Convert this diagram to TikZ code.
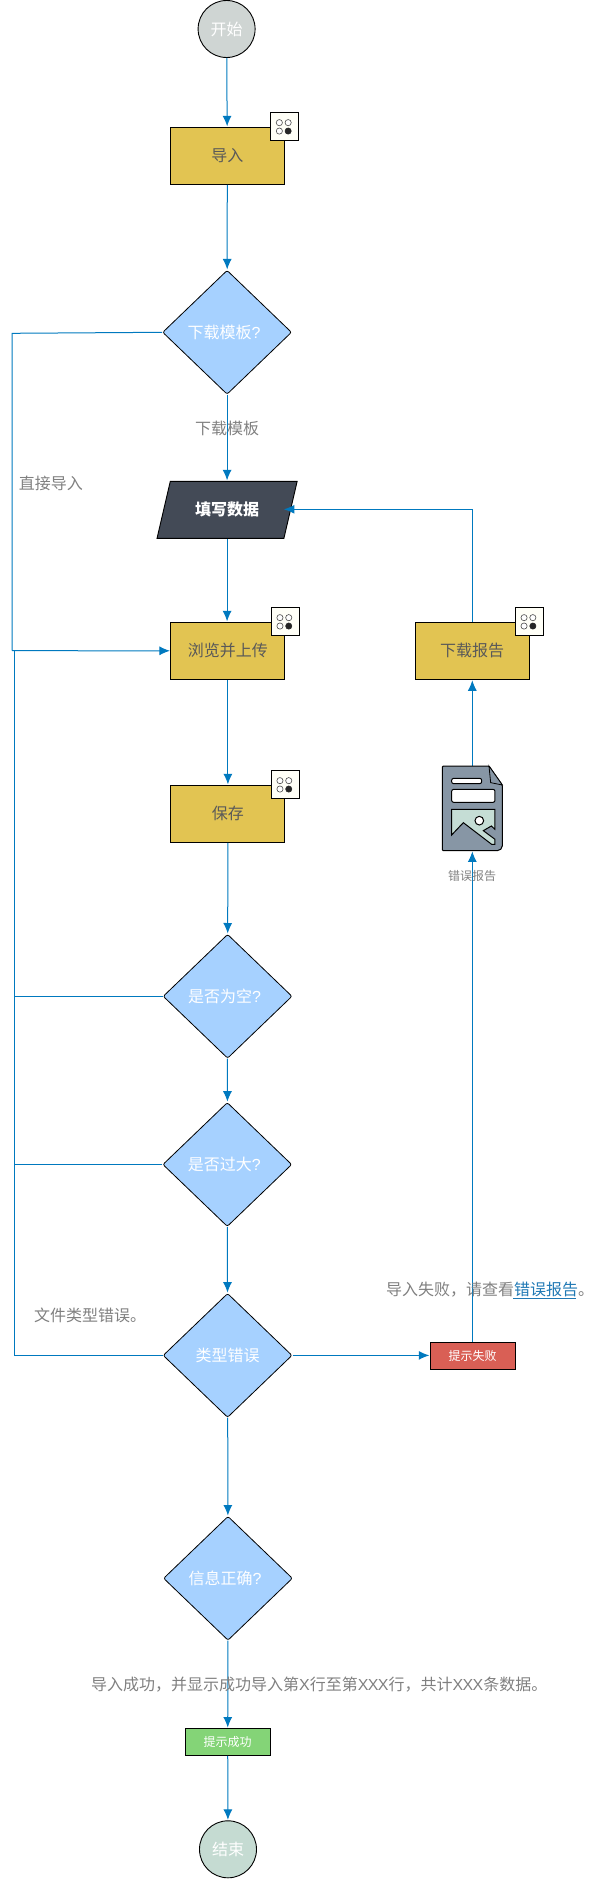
\documentclass[tikz,border=0pt]{standalone}
\usepackage{fontspec}
\setmainfont{Noto Sans CJK SC}
\newfontfamily\latinfont[LetterSpace=-4]{Liberation Sans}
\usetikzlibrary{arrows.meta,shapes.geometric}
\definecolor{flow}{HTML}{0079BF}
\definecolor{procfill}{HTML}{E2C452}
\definecolor{askfill}{HTML}{A6D1FF}
\definecolor{datafill}{HTML}{434A56}
\definecolor{failfill}{HTML}{D95F55}
\definecolor{passfill}{HTML}{84D477}
\definecolor{startfill}{HTML}{CFD5D3}
\definecolor{endfill}{HTML}{C5DBD2}
\definecolor{docfill}{HTML}{8796A5}
\definecolor{picfill}{HTML}{C5DDD5}
\definecolor{notegray}{HTML}{808080}
\definecolor{linkblue}{HTML}{1F78B4}
\tikzset{
  line/.style={draw=flow,line width=1pt},
  arrow/.style={line,-{Latex[length=10.5pt,width=9pt]},shorten >=.5pt},
  terminal/.style={circle,draw,line width=.9pt,fill=#1,minimum size=57pt,inner sep=0pt,text=white,font=\fontsize{16pt}{16pt}\selectfont},
  proc/.style={rectangle,draw,line width=.9pt,fill=procfill,minimum width=114pt,minimum height=57pt,inner sep=0pt,text=black!65,font=\fontsize{16pt}{16pt}\selectfont},
  ask/.style={diamond,draw,line width=.8pt,rounded corners=2pt,fill=askfill,minimum width=129pt,minimum height=124pt,inner sep=0pt,text=white,font=\fontsize{16pt}{16pt}\selectfont},
  tip/.style={rectangle,draw,line width=.9pt,fill=#1,minimum width=85pt,minimum height=27pt,inner sep=0pt,text=white,font=\fontsize{12pt}{12pt}\selectfont},
  note/.style={text=notegray,inner sep=0pt,font=\fontsize{16pt}{16pt}\selectfont},
  badge/.style={rectangle,draw,line width=.9pt,fill=yellow!3,minimum size=28pt,inner sep=0pt},
  ring/.style={draw=black!70,line width=.6pt,fill=white},
  pip/.style={draw=black!85,line width=.6pt,fill=black!85}
}
\begin{document}
\begin{tikzpicture}[x=1pt,y=-1pt]
\useasboundingbox (0,0) rectangle (599,1879);

\node[terminal=startfill] (start) at (226.6,29) {开始};
\node[proc] (import) at (227.3,155.8) {导入};
\node[ask] (template) at (227.1,332.3) {下载模板{\latinfont ?}\kern6pt};
\node[trapezium,trapezium left angle=64,trapezium right angle=116,trapezium stretches=true,draw,line width=.9pt,fill=datafill,minimum width=141pt,minimum height=57pt,inner sep=0pt,text=white,font=\fontsize{16pt}{16pt}\selectfont\bfseries] (fill) at (227.1,509.8) {填写数据};
\node[proc] (upload) at (227.9,650.8) {浏览并上传};
\node[proc] (save) at (227.9,813.8) {保存};
\node[proc] (report) at (472,650.8) {下载报告};
\node[ask] (empty) at (227.6,996.3) {是否为空{\latinfont ?}\kern6pt};
\node[ask] (large) at (227.3,1164.5) {是否过大{\latinfont ?}\kern6pt};
\node[ask] (type) at (227.6,1355.4) {类型错误};
\node[ask] (right) at (228,1578.3) {信息正确{\latinfont ?}\kern6pt};
\node[tip=failfill] (fail) at (472.7,1355.8) {提示失败};
\node[tip=passfill] (pass) at (227.7,1742) {提示成功};
\node[terminal=endfill] (end) at (228,1849.3) {结束};
\node[minimum width=60pt,minimum height=84.7pt,inner sep=0pt] (doc) at (472.3,808.3) {};

\coordinate (railtop) at (12.2,333.3);
\coordinate (railmid) at (12.2,650.7);
\coordinate (rail) at (14.5,650.7);
\coordinate (fillside) at (283.4,509.3);

\draw[arrow] (start) -- (import);
\draw[arrow] (import) -- (template);
\draw[arrow] (template) -- (fill.north -| template);
\draw[arrow] (fill.south -| template) -- (upload.north -| template);
\draw[arrow] (upload) -- (save);
\draw[arrow] (save) -- (empty);
\draw[arrow] (empty) -- (large);
\draw[arrow] (large) -- (type);
\draw[arrow] (type) -- (right);
\draw[arrow] (right) -- (pass);
\draw[arrow] (pass) -- (end);
\draw[line] (template.west) -- (railtop) -- (railmid);
\draw[arrow] (railmid) -- (upload.west);
\draw[line] (type.west) -| (rail);
\draw[line] (empty.west) -- (empty.west -| rail);
\draw[line] (large.west) -- (large.west -| rail);
\draw[arrow] (type) -- (fail.west |- type);
\draw[arrow] (fail.north -| doc) -- (doc.south);
\draw[arrow] (doc.north) -- (report.south -| doc);
\draw[arrow] (report.north) |- (fillside);

\foreach \proc in {import,upload,save,report} {
  \node[badge] (dots\proc) at (\proc.north east) {};
  \foreach \dx/\dy in {-5.4/-4.2,3.4/-4.2,-5.4/4.2} {
    \draw[ring] ([shift={(\dx,\dy)}]\proc.north east) circle[radius=3.1];
  }
  \draw[pip] ([shift={(3.4,4.2)}]\proc.north east) circle[radius=3.1];
}

\begin{scope}[shift={(420,740)},x=.3333pt,y=-.3333pt]
\draw[line width=1pt,fill=docfill,rounded corners=1pt] (80,78) -- (207,78) -- (247,135) -- (247,316) to[rounded corners=5pt] (247,332) -- (67,332) -- (67,78) -- cycle;
\draw[line width=.8pt,fill=docfill] (207,78) -- (212,128) -- (247,135) -- cycle;
\draw[line width=1pt,fill=white,rounded corners=2pt] (95,115) rectangle (185,131);
\draw[line width=1pt,fill=white,rounded corners=2pt] (95,148) rectangle (225,187);
\draw[line width=1pt,fill=picfill] (95,208) -- (225,208) -- (225,268) -- (214,258) -- (190,272) -- (225,298) -- (225,313) -- (215,313) -- (130,248) -- (95,285) -- cycle;
\draw[line width=1pt,fill=white] (178,242) circle[radius=13];
\end{scope}

\node[note] (tpllabel) at (227.1,428.3) {下载模板};
\node[note] (directlabel) at (51,483.3) {直接导入};
\node[text=notegray,inner sep=0pt,font=\fontsize{12pt}{12pt}\selectfont] (doclabel) at (472,876) {错误报告};
\node[note,anchor=west] (typelabel) at (34,1315) {文件类型错误。};
\node[note,anchor=west] (faillabel) at (386,1289.3) {导入失败，请查看\textcolor{linkblue}{错误报告}。};
\draw[linkblue,line width=.8pt] (513,1298.5) -- (576,1298.5);
\node[note,anchor=west] (passlabel) at (91,1684.3) {导入成功，并显示成功导入第{\latinfont X}行至第{\latinfont XXX}行，共计{\latinfont XXX}条数据。};
\end{tikzpicture}
\end{document}
